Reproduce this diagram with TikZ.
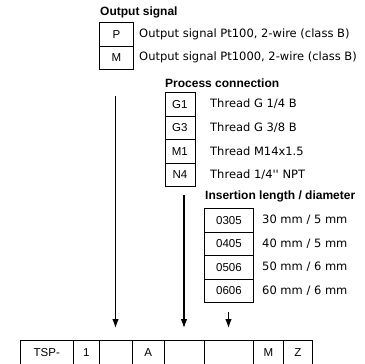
\documentclass[tikz,border=0pt]{standalone}
\usepackage{fontspec}
\usetikzlibrary{arrows.meta}
\newfontfamily\bodyfam{DejaVu Sans}
\newfontfamily\boxfam{Liberation Sans}
\newfontfamily\headfam{Liberation Sans}[UprightFont=* Bold]
\begin{document}
\begin{tikzpicture}[x=1pt,y=-1pt,
  cellbox/.style={draw, line width=0.8pt, inner sep=0pt, anchor=north west,
    minimum height=23.5pt, font=\boxfam\fontsize{11.5}{13}\selectfont},
  lbl/.style={anchor=west, inner sep=0pt, font=\bodyfam\fontsize{11.5}{13}\selectfont},
  head/.style={anchor=west, inner sep=0pt, font=\headfam\fontsize{12}{14}\selectfont},
  arr/.style={-{Latex[length=9pt,width=6.5pt]}, line width=1.1pt}]
\useasboundingbox (0,0) rectangle (364,364);
% Output signal
\node[head] (h1) at (100,12) {Output signal};
\node[cellbox, minimum width=34pt] (P) at (99,22) {P};
\node[cellbox, minimum width=34pt] (M) at (99,45.5) {M};
\node[lbl] (tP) at (139,34) {Output signal Pt100, 2-wire (class B)};
\node[lbl] (tM) at (139,57.5) {Output signal Pt1000, 2-wire (class B)};
% Process connection
\node[head] (h2) at (165,83) {Process connection};
\node[cellbox, minimum width=30pt] (G1) at (164.5,92) {G1};
\node[cellbox, minimum width=30pt] (G3) at (164.5,115.5) {G3};
\node[cellbox, minimum width=30pt] (M1) at (164.5,139) {M1};
\node[cellbox, minimum width=30pt] (N4) at (164.5,162.5) {N4};
\node[lbl] (tG1) at (210,104) {Thread G 1/4 B};
\node[lbl] (tG3) at (210,127.5) {Thread G 3/8 B};
\node[lbl] (tM1) at (210,151) {Thread M14x1.5};
\node[lbl] (tN4) at (210,174.5) {Thread 1/4'' NPT};
% Insertion length
\node[head] (h3) at (205,196) {Insertion length / diameter};
\node[cellbox, minimum width=49pt] (L1) at (204,208) {0305};
\node[cellbox, minimum width=49pt] (L2) at (204,231.5) {0405};
\node[cellbox, minimum width=49pt] (L3) at (204,255) {0506};
\node[cellbox, minimum width=49pt] (L4) at (204,278.5) {0606};
\node[lbl] (tL1) at (262,220) {30 mm / 5 mm};
\node[lbl] (tL2) at (262,243.5) {40 mm / 5 mm};
\node[lbl] (tL3) at (262,267) {50 mm / 6 mm};
\node[lbl] (tL4) at (262,290.5) {60 mm / 6 mm};
% Bottom row
\node[cellbox, minimum width=52.7pt] (c1) at (20,340) {TSP-};
\node[cellbox, minimum width=26.6pt] (c2) at (72.7,340) {1};
\node[cellbox, minimum width=32.4pt] (c3) at (99.3,340) {};
\node[cellbox, minimum width=32.3pt] (c4) at (131.7,340) {A};
\node[cellbox, minimum width=40pt] (c5) at (164,340) {};
\node[cellbox, minimum width=49pt] (c6) at (204,340) {};
\node[cellbox, minimum width=30pt] (c7) at (253,340) {M};
\node[cellbox, minimum width=29pt] (c8) at (283,340) {Z};
% Connectors
\coordinate (s1) at (115.5,96);
\coordinate (s2) at (184,195);
\coordinate (s3) at (228.5,312);
\draw[arr, shorten >=12pt] (s1) -- (s1 |- c3.north);
\draw[arr, shorten >=12pt] (s2) -- (s2 |- c5.north);
\draw[arr, shorten >=12pt] (s3) -- (s3 |- c6.north);
\end{tikzpicture}
\end{document}
